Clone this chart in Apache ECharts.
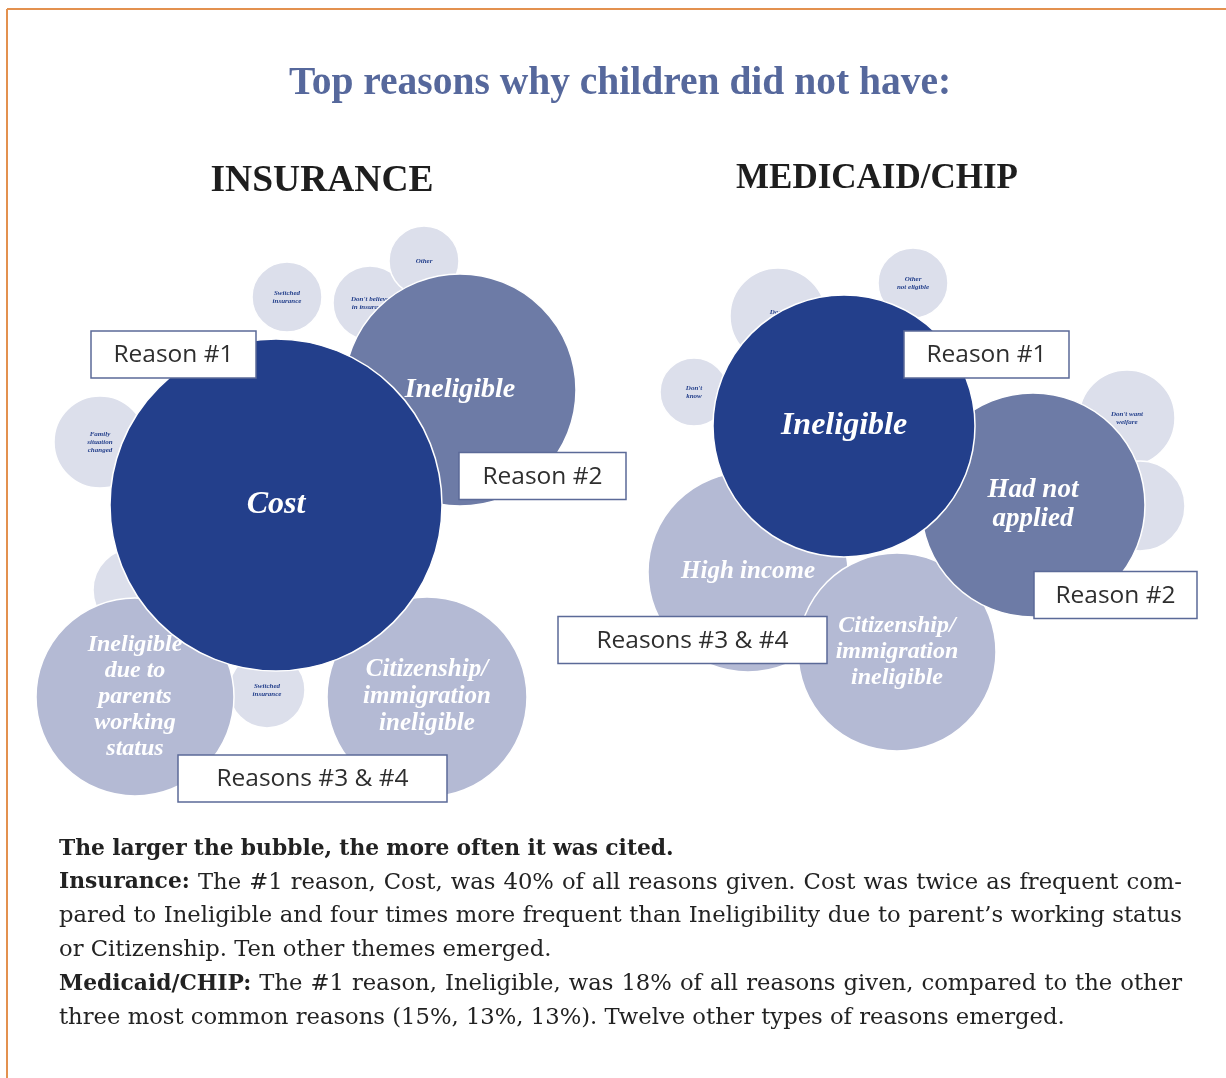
<!DOCTYPE html>
<html>
<head>
<meta charset="utf-8">
<script src="https://cdn.jsdelivr.net/npm/echarts@6/dist/echarts.min.js"></script>
<style>
html,body{margin:0;padding:0;background:#fff;}
#chart{width:1226px;height:1078px;}
</style>
</head>
<body>
<div id="chart"></div>
<script>
// ---------- DATA ----------
// Insurance panel: bubble labels, centre (x,y) in panel units, radius (size), tier (0 = #1 ... 3 = minor)
const insNames = ['Cost', 'Ineligible', 'Ineligible\ndue to\nparents\nworking\nstatus', 'Citizenship/\nimmigration\nineligible',
  'Switched\ninsurance', 'Don\'t believe\nin insurance', 'Other', 'Family\nsituation\nchanged', '', 'Switched\ninsurance'];
const insX = [-24, 160, -165, 127, -13, 70, 124, -200, -165, -33];
const insY = [5, 120, -187, -187, 213, 207, 249, 68, -80, -180];
const insR = [166, 116, 99, 100, 35, 37, 35, 46, 42, 38];
const insTier = [0, 1, 2, 2, 3, 3, 3, 3, 3, 3];

// Medicaid/CHIP panel
const medNames = ['Ineligible', 'Had not\napplied', 'High income', 'Citizenship/\nimmigration\nineligible',
  'Don\'t\nneed it', 'Other\nnot eligible', 'Don\'t\nknow', 'Don\'t want\nwelfare', ''];
const medX = [-82, 107, -178, -29, -148, -13, -232, 201, 214];
const medY = [84, 5, -62, -142, 194, 227, 118, 92, 4];
const medR = [131, 112, 100, 99, 48, 35, 34, 48, 45];
const medTier = [0, 1, 2, 2, 3, 3, 3, 3, 3];

// Callout boxes (centre in panel units, width in panel units)
const insCallText = ['Reason #1', 'Reason #2', 'Reasons #3 & #4'];
const insCallX = [-126.5, 242.5, 12.5];
const insCallY = [155.5, 34, -268.5];
const insCallW = [165, 167, 269];
const medCallText = ['Reason #1', 'Reason #2', 'Reasons #3 & #4'];
const medCallX = [60.5, 189.5, -233.5];
const medCallY = [155.5, -85, -130];
const medCallW = [165, 163, 269];

const titleText = 'Top reasons why children did not have:';
const panelTitles = ['INSURANCE', 'MEDICAID/CHIP'];
// caption lines: [bold lead, normal rest, justified?]
const captionLines = [
  ['The larger the bubble, the more often it was cited.', '', false],
  ['Insurance:', 'The #1 reason, Cost, was 40% of all reasons given. Cost was twice as frequent com-', true],
  ['', 'pared to Ineligible and four times more frequent than Ineligibility due to parent\u2019s working status', true],
  ['', 'or Citizenship. Ten other themes emerged.', false],
  ['Medicaid/CHIP:', 'The #1 reason, Ineligible, was 18% of all reasons given, compared to the other', true],
  ['', 'three most common reasons (15%, 13%, 13%). Twelve other types of reasons emerged.', false]
];

// ---------- STYLE ----------
const tierFill = ['#233f8b', '#6d7ba6', '#b4bad4', '#dcdfeb'];
const serif = '"Liberation Serif", "DejaVu Serif", serif';

function buildBubbles(names, xs, ys, rs, tiers) {
  const arr = names.map((n, i) => ({ label: n, value: [xs[i], ys[i], rs[i], tiers[i]] }));
  arr.sort((a, b) => b.value[3] - a.value[3]);
  return arr;
}

function makeBubbleRender(items) {
  return function (params, api) {
    const c = api.coord([api.value(0), api.value(1)]);
    const s = api.size([api.value(2), api.value(2)]);
    const r = s[0];
    const tier = api.value(3);
    const name = items[params.dataIndex].label;
    const children = [{
      type: 'circle',
      shape: { cx: c[0], cy: c[1], r: r },
      style: { fill: tierFill[tier], stroke: '#ffffff', lineWidth: 1.5 }
    }];
    if (name) {
      let fs, color;
      if (tier === 3) { fs = 7; color = '#233f8b'; }
      else { fs = Math.min(32, Math.round(r * 0.245)); color = '#ffffff'; }
      children.push({
        type: 'text',
        x: c[0], y: c[1],
        style: {
          text: name, fill: color, align: 'center', verticalAlign: 'middle',
          fontFamily: serif, fontStyle: 'italic', fontWeight: 'bold', fontSize: fs,
          lineHeight: Math.round(fs * 1.08)
        }
      });
    }
    return { type: 'group', children: children };
  };
}

function makeCalloutRender(texts) {
  return function (params, api) {
    const c = api.coord([api.value(0), api.value(1)]);
    const s = api.size([api.value(2), 47]);
    const w = s[0], h = s[1];
    return {
      type: 'group',
      children: [
        { type: 'rect', shape: { x: c[0] - w / 2, y: c[1] - h / 2, width: w, height: h },
          style: { fill: '#ffffff', stroke: '#5b6a98', lineWidth: 1.5 } },
        { type: 'text', x: c[0], y: c[1] + 1,
          style: { text: texts[params.dataIndex], fill: '#2e2e2e', align: 'center', verticalAlign: 'middle',
            fontFamily: '"Open Sans", Lato, sans-serif', fontSize: 24.5 } }
      ]
    };
  };
}

const insItems = buildBubbles(insNames, insX, insY, insR, insTier);
const medItems = buildBubbles(medNames, medX, medY, medR, medTier);

const chart = echarts.init(document.getElementById('chart'), null, { renderer: 'canvas' });
const axisHidden = { show: false, min: -300, max: 300, type: 'value' };

const graphic = [
  { type: 'line', shape: { x1: 7, y1: 9, x2: 1226, y2: 9 }, style: { stroke: '#e3914f', lineWidth: 2 } },
  { type: 'line', shape: { x1: 7, y1: 9, x2: 7, y2: 1078 }, style: { stroke: '#e3914f', lineWidth: 2 } },
  { type: 'text', x: 620, y: 84, style: { text: titleText, fill: '#56689c', align: 'center', verticalAlign: 'middle',
      fontFamily: serif, fontWeight: 'bold', fontSize: 39.5 } },
  { type: 'text', x: 322, y: 181, style: { text: panelTitles[0], fill: '#1e1e1e', align: 'center', verticalAlign: 'middle',
      fontFamily: serif, fontWeight: 'bold', fontSize: 37.5 } },
  { type: 'text', x: 877, y: 179, style: { text: panelTitles[1], fill: '#1e1e1e', align: 'center', verticalAlign: 'middle',
      fontFamily: serif, fontWeight: 'bold', fontSize: 35 } }
];

// caption: word-positioned text so that justified lines reach the right margin
const capFamily = '"DejaVu Serif", serif';
const capSizeN = 22.7, capSizeB = 21.8;
const capLeft = 59, capRight = 1182;
const mctx = document.createElement('canvas').getContext('2d');
function measure(t, bold) {
  mctx.font = (bold ? 'bold ' + capSizeB : capSizeN) + 'px ' + capFamily;
  return mctx.measureText(t).width;
}
captionLines.forEach((line, i) => {
  const y = 849 + i * 33.8;
  const words = [];
  if (line[0]) line[0].split(' ').forEach(w => words.push([w, true]));
  if (line[1]) line[1].split(' ').forEach(w => words.push([w, false]));
  const widths = words.map(w => measure(w[0], w[1]));
  const spaceW = measure(' ', false);
  const total = widths.reduce((a, b) => a + b, 0);
  let gap = spaceW;
  if (line[2] && words.length > 1) gap = (capRight - capLeft - total) / (words.length - 1);
  let x = capLeft;
  words.forEach((w, k) => {
    graphic.push({
      type: 'text', x: x, y: y,
      style: {
        text: w[0], align: 'left', verticalAlign: 'middle', fill: '#222222',
        fontFamily: capFamily, fontSize: w[1] ? capSizeB : capSizeN, fontWeight: w[1] ? 'bold' : 'normal'
      }
    });
    x += widths[k] + gap;
  });
});

chart.setOption({
  animation: false,
  backgroundColor: '#ffffff',
  grid: [
    { left: 0, top: 210, width: 600, height: 600 },
    { left: 626, top: 210, width: 600, height: 600 }
  ],
  xAxis: [Object.assign({ gridIndex: 0 }, axisHidden), Object.assign({ gridIndex: 1 }, axisHidden)],
  yAxis: [Object.assign({ gridIndex: 0 }, axisHidden), Object.assign({ gridIndex: 1 }, axisHidden)],
  series: [
    { type: 'custom', name: 'Insurance', xAxisIndex: 0, yAxisIndex: 0, renderItem: makeBubbleRender(insItems),
      data: insItems.map(d => d.value), z: 2 },
    { type: 'custom', name: 'Medicaid/CHIP', xAxisIndex: 1, yAxisIndex: 1, renderItem: makeBubbleRender(medItems),
      data: medItems.map(d => d.value), z: 2 },
    { type: 'custom', name: 'InsCallouts', xAxisIndex: 0, yAxisIndex: 0, renderItem: makeCalloutRender(insCallText),
      data: insCallText.map((t, i) => [insCallX[i], insCallY[i], insCallW[i]]), z: 5 },
    { type: 'custom', name: 'MedCallouts', xAxisIndex: 1, yAxisIndex: 1, renderItem: makeCalloutRender(medCallText),
      data: medCallText.map((t, i) => [medCallX[i], medCallY[i], medCallW[i]]), z: 5 }
  ],
  graphic: graphic
});
</script>
</body>
</html>
